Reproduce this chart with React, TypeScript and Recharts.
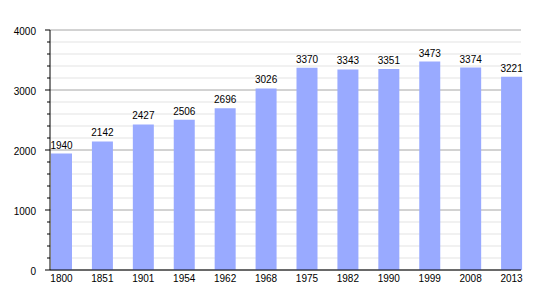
import { BarChart, Bar, XAxis, YAxis, CartesianGrid, LabelList } from 'recharts'

const years = ['1800', '1851', '1901', '1954', '1962', '1968', '1975', '1982', '1990', '1999', '2008', '2013']
const population = [1940, 2142, 2427, 2506, 2696, 3026, 3370, 3343, 3351, 3473, 3374, 3221]
const yTicks = [0, 200, 400, 600, 800, 1000, 1200, 1400, 1600, 1800, 2000, 2200, 2400, 2600, 2800, 3000, 3200, 3400, 3600, 3800, 4000]

const data = years.map((year, i) => ({ year, population: population[i] }))

const FONT = '"Liberation Sans", Arial, sans-serif'

/** Y tick: long tick + label at thousands, short tick otherwise */
const YTick = (props: any) => {
  const { x, y, payload } = props
  const major = payload.value % 1000 === 0
  return (
    <g>
      <line x1={x - (major ? 5 : 3)} y1={y} x2={x} y2={y} stroke="#000" strokeWidth={1} />
      {major && (
        <text x={x - 14} y={y} dy={4.5} textAnchor="end" fontSize={10} fontFamily={FONT} fill="#000">
          {payload.value}
        </text>
      )}
    </g>
  )
}

/** Grid line: darker at every 1000, light in between */
const gridLine = (props: any) => {
  const { x1, y1, x2, y2, index } = props
  const major = index % 5 === 0
  return (
    <line key={`g-${index}`} x1={x1} y1={y1} x2={x2} y2={y2}
      stroke={major ? '#a6a6a6' : '#e3e3e3'} strokeWidth={1} />
  )
}

export default function App() {
  return (
    <div style={{ position: 'absolute', left: 0, top: 0, background: '#fff' }}>
      <BarChart width={550} height={300} data={data}
        margin={{ top: 30, right: 29, bottom: 0, left: 0 }}>
        <CartesianGrid vertical={false} horizontal={gridLine} />
        <XAxis
          dataKey="year"
          height={30}
          padding={{ left: -9, right: -11 }}
          tickSize={0}
          tickMargin={5}
          tickLine={false}
          axisLine={{ stroke: '#000' }}
          tick={{ fontSize: 10, fill: '#000', fontFamily: FONT }}
          interval={0}
        />
        <YAxis
          width={50}
          domain={[0, 4000]}
          ticks={yTicks}
          interval={0}
          tickSize={0}
          tickMargin={0}
          tickLine={false}
          axisLine={{ stroke: '#000' }}
          tick={<YTick />}
        />
        <Bar dataKey="population" fill="#99aaff" barSize={21} isAnimationActive={false}>
          <LabelList dataKey="population" position="top" offset={5}
            fontSize={10} fill="#000" fontFamily={FONT} />
        </Bar>
      </BarChart>
    </div>
  )
}
